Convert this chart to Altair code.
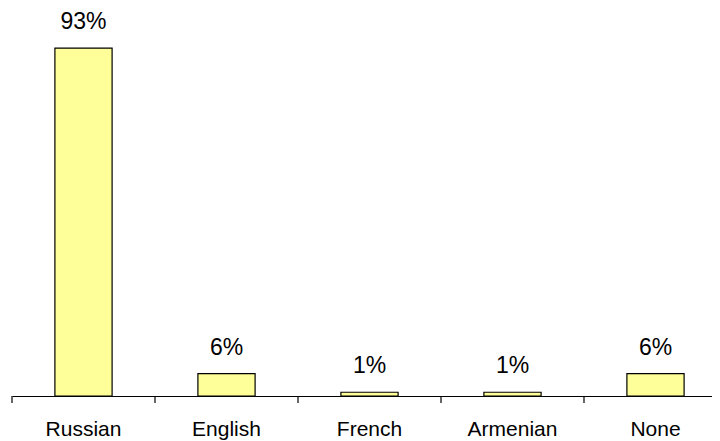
import altair as alt
import pandas as pd

languages = ["Russian", "English", "French", "Armenian", "None"]
values = [93, 6, 1, 1, 6]
labels = ["93%", "6%", "1%", "1%", "6%"]

df = pd.DataFrame({"language": languages, "value": values, "label": labels})

xscale = alt.Scale(range=[0, 715], paddingInner=0, paddingOuter=0)
yscale = alt.Scale(domain=[0, 103.7], nice=False, zero=True)

base = alt.Chart(df)

bars = base.mark_bar(
    width=alt.RelativeBandSize(0.40), fill="#FFFF99", stroke="black", strokeWidth=1.2
).encode(
    x=alt.X(
        "language:N",
        sort=languages,
        scale=xscale,
        axis=alt.Axis(
            title=None,
            labelAngle=0,
            ticks=False,
            tickSize=0,
            domainColor="black",
            domainWidth=1.2,
            labelFont="Liberation Sans",
            labelFontSize=21,
            labelColor="black",
            labelPadding=39,
            labelBaseline="alphabetic",
            grid=False,
        ),
    ),
    y=alt.Y("value:Q", scale=yscale, axis=None),
)

text = base.mark_text(
    font="Liberation Sans", fontSize=23, color="black", dy=-19, baseline="alphabetic"
).encode(
    x=alt.X("language:N", sort=languages, scale=xscale),
    y=alt.Y("value:Q", scale=yscale),
    text="label:N",
)

ticks = base.mark_rule(color="black", strokeWidth=1.2).encode(
    x=alt.X("language:N", sort=languages, scale=xscale, bandPosition=0),
    y=alt.value(388),
    y2=alt.value(395),
)

chart = (
    alt.layer(bars, text, ticks)
    .properties(
        width=700,
        height=388,
        padding={"left": 4, "top": 0, "right": 0, "bottom": 45},
        autosize=alt.AutoSizeParams(type="none"),
    )
    .configure_view(stroke=None)
)

chart.save("out.html", embed_options={"renderer": "svg", "actions": False})
